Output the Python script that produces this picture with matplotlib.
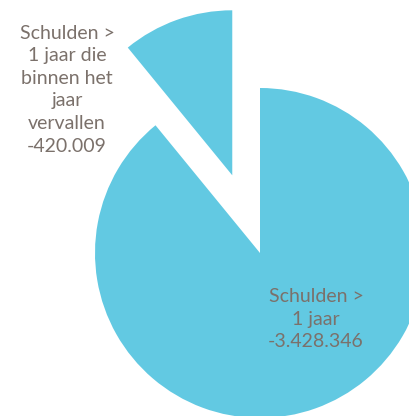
import matplotlib
matplotlib.use("Agg")
import matplotlib.pyplot as plt

categories = ["Schulden >\n1 jaar die\nbinnen het\njaar\nvervallen", "Schulden >\n1 jaar"]
values = [-420009, -3428346]

def fmt(v):
    s = f"{abs(v):,}".replace(",", ".")
    return ("-" if v < 0 else "") + s

W, H = 409, 416
R = 165.0
cx, cy = 260.0, 253.0  # pixel center (from top)

fig = plt.figure(figsize=(W / 100, H / 100), dpi=100)
ax = fig.add_axes([0, 0, 1, 1])
color = "#62C9E2"
ax.pie([abs(v) for v in values], colors=[color, color], startangle=90,
       counterclock=True, explode=[0.5, 0], radius=1, center=(0, 0),
       wedgeprops=dict(linewidth=0))
ax.set_xlim(-cx / R, (W - cx) / R)
ax.set_ylim(-(H - cy) / R, cy / R)
ax.set_aspect("auto")
ax.axis("off")

tc = "#7b716b"
fs = 14
ax.text(-1.17, 0.99, categories[0] + "\n" + fmt(values[0]), ha="center", va="center",
        color=tc, fontsize=fs, family="Lato", linespacing=1.4)
ax.text(0.34, -0.40, categories[1] + "\n" + fmt(values[1]), ha="center", va="center",
        color=tc, fontsize=fs, family="Lato", linespacing=1.4)

fig.savefig("out.png", dpi=100)
